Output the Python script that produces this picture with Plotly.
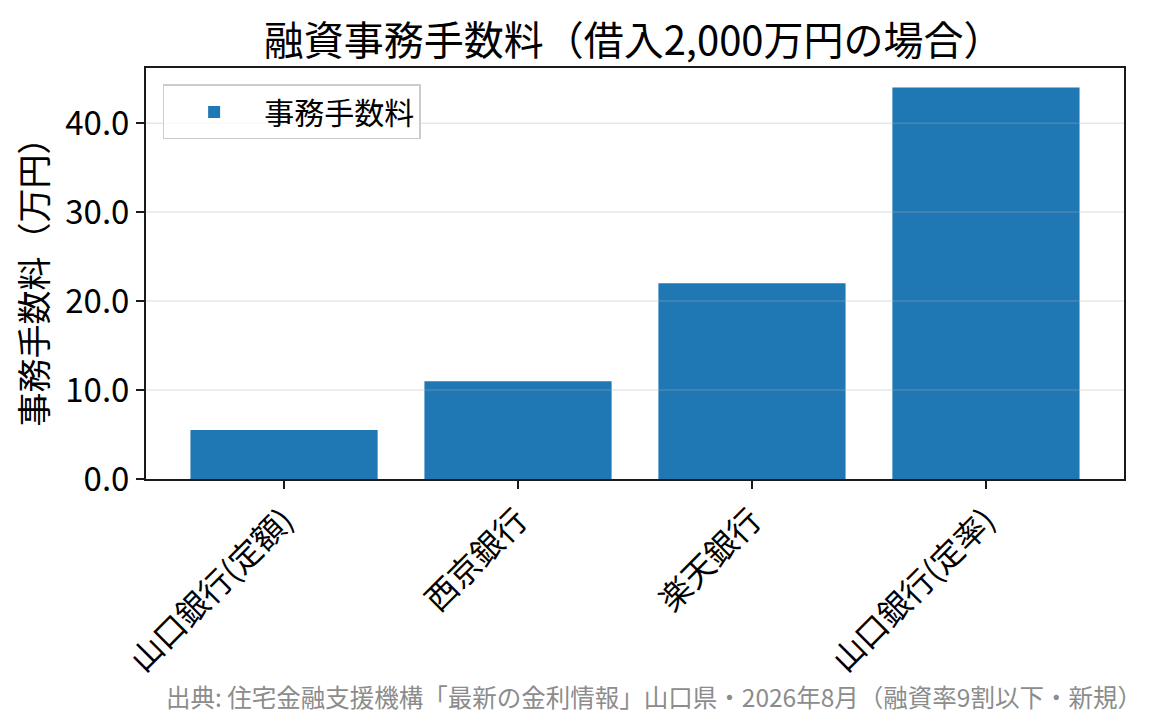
import plotly.graph_objects as go

# data
banks = ['山口銀行(定額)', '西京銀行', '楽天銀行', '山口銀行(定率)']
fees = [5.5, 11.0, 22.0, 44.0]   # 万円
y_ticks = [0, 10, 20, 30, 40]

FONT = 'Noto Sans CJK JP'
BLUE = '#1f77b4'

fig = go.Figure()
fig.add_trace(
  go.Bar(
    x=banks,
    y=fees,
    name='事務手数料',
    marker_color=BLUE,
    marker_line_width=0,
    width=0.8,
  )
)

# matplotlib-style grid drawn over the bars (alpha 0.3)
for t in y_ticks[1:]:
  fig.add_shape(
    type='line', xref='paper', yref='y',
    x0=0, x1=1, y0=t, y1=t,
    line=dict(color='rgba(176,176,176,0.3)', width=1.5),
    layer='above',
  )

fig.add_annotation(
  text='出典: 住宅金融支援機構「最新の金利情報」山口県・2026年8月（融資率9割以下・新規）',
  xref='paper', yref='paper',
  x=1.02, y=-0.53,
  xanchor='right', yanchor='middle',
  showarrow=False,
  font=dict(family=FONT, size=24.5, color='#8c8c8c'),
)

fig.update_layout(
  width=1165,
  height=725,
  margin=dict(l=138, r=49, t=60, b=254),
  paper_bgcolor='white',
  plot_bgcolor='white',
  font=dict(family=FONT, color='black'),
  title=dict(
    text='融資事務手数料（借入2,000万円の場合）',
    font=dict(family=FONT, size=40, color='black'),
    x=0.537, xanchor='center',
    y=0.955, yanchor='middle',
  ),
  showlegend=True,
  legend=dict(
    x=0.017, y=0.96, xanchor='left', yanchor='top',
    bgcolor='rgba(255,255,255,0.8)',
    bordercolor='#cccccc', borderwidth=1.5,
    font=dict(family=FONT, size=30),
    itemwidth=90,
  ),
  xaxis=dict(
    range=[-0.59, 3.59],
    tickangle=-45,
    tickfont=dict(family=FONT, size=32),
    showline=True, linecolor='#1a1a1a', linewidth=2, mirror=True,
    ticks='outside', ticklen=8, tickwidth=2, tickcolor='#1a1a1a',
    showgrid=False,
  ),
  yaxis=dict(
    range=[0, 46.2],
    tickvals=y_ticks,
    tickformat='.1f',
    tickfont=dict(family=FONT, size=33),
    title=dict(text='事務手数料（万円）', font=dict(family=FONT, size=34), standoff=12),
    showline=True, linecolor='#1a1a1a', linewidth=2, mirror=True,
    ticks='outside', ticklen=8, tickwidth=2, tickcolor='#1a1a1a',
    showgrid=False, zeroline=False,
  ),
)

fig.write_html('out.html')
